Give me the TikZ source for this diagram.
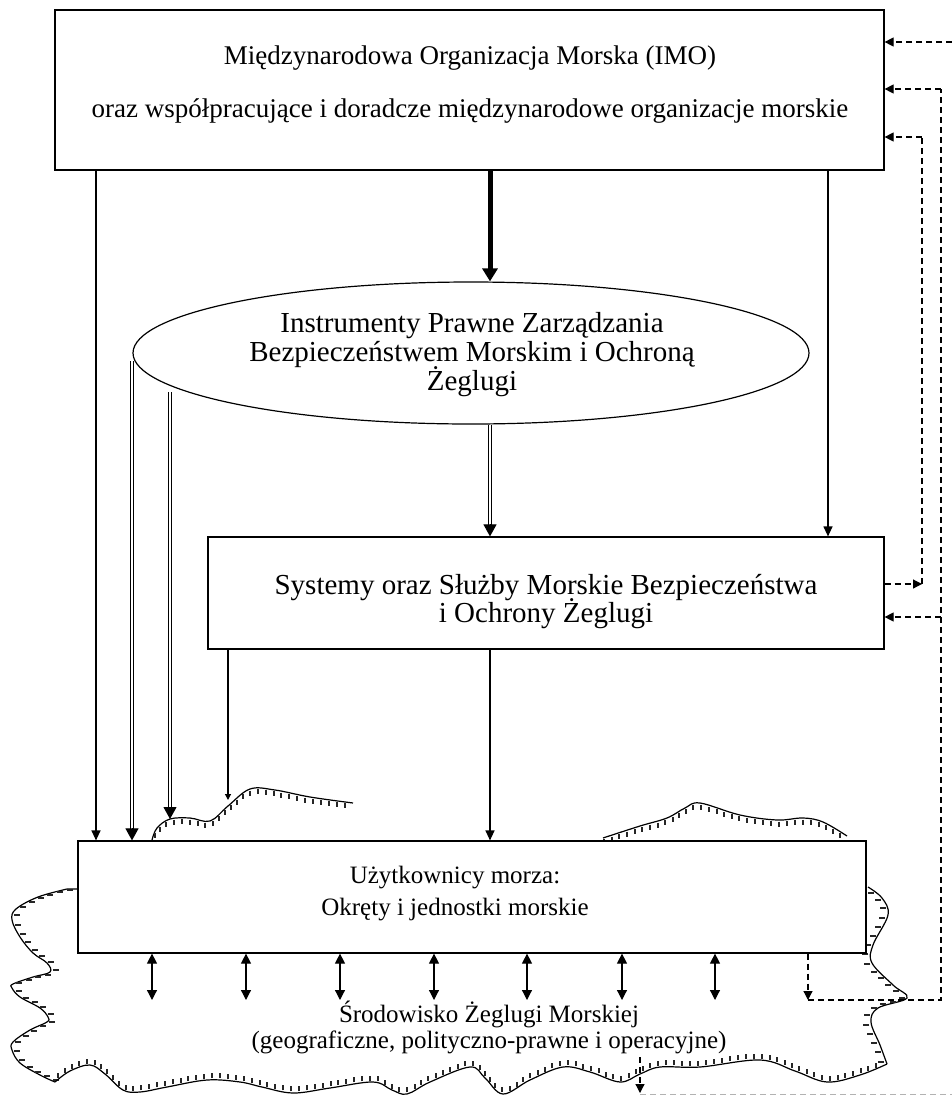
\documentclass[tikz,border=0pt]{standalone}
\usepackage{fontspec}
\setmainfont{Liberation Serif}
\usetikzlibrary{shapes.geometric,decorations.markings,arrows.meta}
\tikzset{
  box/.style={draw, line width=1.2pt, fill=white, inner sep=0pt},
  txt/.style={font=\fontsize{25}{27}\selectfont, anchor=base, inner sep=0pt},
  txtbig/.style={font=\fontsize{27}{29}\selectfont, anchor=base, inner sep=0pt},
  txthuge/.style={font=\fontsize{29}{31}\selectfont, anchor=base, inner sep=0pt},
  tip/.style={line width=1.2pt, -{Triangle[length=10pt,width=9pt]}},
  bitip/.style={line width=1.2pt, {Triangle[length=10pt,width=10pt]}-{Triangle[length=10pt,width=10pt]}},
  thicktip/.style={line width=5pt, -{Triangle[length=13pt,width=15pt]}},
  dbl/.style={line width=1.6pt, double, double distance=1.5pt},
  dbltip/.style={line width=1pt, -{Triangle[length=12pt,width=13pt]}},
  dashline/.style={line width=1.2pt, dash pattern=on 6pt off 4pt},
  dashtip/.style={dashline, -{Triangle[length=9pt,width=9pt]}},
  tickline/.style={line width=2pt, black!85, line cap=butt},
  hatchdown/.style={postaction={decorate, decoration={markings,
      mark=between positions 0.005 and 0.995 step 8pt with {\pgftransformresetnontranslations \draw[tickline] (0pt,-1.5pt) -- (0pt,-6.5pt);}}}},
  hatchup/.style={postaction={decorate, decoration={markings,
      mark=between positions 0.005 and 0.995 step 8pt with {\pgftransformresetnontranslations \draw[tickline] (0pt,1.5pt) -- (0pt,6.5pt);}}}},
  hatchright/.style={postaction={decorate, decoration={markings,
      mark=between positions 0.01 and 0.99 step 10pt with {\pgftransformresetnontranslations \draw[tickline] (2pt,0pt) -- (8pt,0pt);}}}},
  hatchleft/.style={postaction={decorate, decoration={markings,
      mark=between positions 0.01 and 0.99 step 10pt with {\pgftransformresetnontranslations \draw[tickline] (-2pt,0pt) -- (-8pt,0pt);}}}},
  wave/.style={line width=1.2pt}
}
\begin{document}
\begin{tikzpicture}[x=1pt,y=-1pt]
\useasboundingbox (0,0) rectangle (952,1096);

% ---- coastline outlines ----
\draw[wave, hatchdown] plot[smooth, tension=0.6] coordinates {(152,840) (157,828) (170,819) (190,818) (210,821) (228,806) (250,789) (275,790) (310,797) (353,803)};
\draw[wave, hatchdown] plot[smooth, tension=0.6] coordinates {(603,838) (640,826) (667,818) (685,808) (700,803) (740,815) (777,820) (803,818) (823,822) (847,836)};
\draw[wave, hatchright] (78,889) -- plot[smooth, tension=0.6] coordinates {(67,889) (38,897) (16,909) (12,920) (20,937) (33,953) (47,963) (50,972) (33,977) (13,984) (12,988) (20,997) (40,1008) (48,1017) (47,1022) (30,1030) (13,1042) (12,1050) (20,1063) (40,1075) (55,1082)};
\draw[wave, hatchup] plot[smooth, tension=0.6] coordinates {(55,1082) (70,1071) (90,1065) (105,1074) (123,1090) (140,1092) (167,1087) (207,1080) (240,1082) (262,1087) (293,1093) (330,1088) (373,1082) (392,1090) (407,1094) (430,1082) (470,1067) (485,1078) (503,1094) (530,1080) (563,1067) (590,1072) (620,1082) (640,1074) (660,1067) (700,1067) (760,1060) (795,1071) (827,1082) (860,1075) (887,1064)};
\draw[wave, hatchleft] plot[smooth, tension=0.6] coordinates {(887,1064) (880,1045) (871,1022) (878,1008) (907,998) (893,985) (872,963) (873,945) (888,915) (882,898) (868,887)};

% ---- main shapes ----
\node[box, minimum width=829pt, minimum height=160pt] (top) at (469.5,90) {};
\node[draw, line width=1.2pt, fill=white, ellipse, inner sep=0pt, minimum width=676pt, minimum height=142pt] (ell) at (471,353) {};
\node[box, minimum width=676pt, minimum height=112pt] (sbox) at (546,593) {};
\node[box, minimum width=788pt, minimum height=112pt] (ubox) at (472,897) {};

% ---- texts ----
\node[txtbig] (t1) at (470,64) {Międzynarodowa Organizacja Morska (IMO)};
\node[txtbig] (t2) at (470,117) {oraz współpracujące i doradcze międzynarodowe organizacje morskie};
\node[txthuge] (e1) at (472,332) {Instrumenty Prawne Zarządzania};
\node[txthuge] (e2) at (472,361) {Bezpieczeństwem Morskim i Ochroną};
\node[txthuge] (e3) at (472,390) {Żeglugi};
\node[txthuge] (s1) at (546,594) {Systemy oraz Służby Morskie Bezpieczeństwa};
\node[txthuge] (s2) at (546,622) {i Ochrony Żeglugi};
\node[txt] (u1) at (455,883) {Użytkownicy morza:};
\node[txt] (u2) at (455,915) {Okręty i jednostki morskie};
\node[txt] (w1) at (489,1022) {Środowisko Żeglugi Morskiej};
\node[txt] (w2) at (489,1048) {(geograficzne, polityczno-prawne i operacyjne)};

% ---- coordinates ----
\coordinate (xl) at (96,0);
\coordinate (xc) at (490,0);
\coordinate (xr) at (828,0);
\coordinate (d1s) at (132,361);
\coordinate (d2s) at (170,392);
\coordinate (d2e) at (170,819);
\coordinate (s228) at (228,0);
\coordinate (w228) at (228,800);

% ---- solid connectors ----
\draw[tip] (top.south -| xl) -- (ubox.north -| xl);
\draw[thicktip] (top.south -| xc) -- (xc |- ell.north);
\draw[tip] (top.south -| xr) -- (sbox.north -| xr);
% double arrows
\draw[dbl] (d1s) -- ([yshift=11pt]ubox.north -| d1s);
\draw[dbltip] ([yshift=12pt]ubox.north -| d1s) -- (ubox.north -| d1s);
\draw[dbl] (d2s) -- ([yshift=11pt]d2e);
\draw[dbltip] ([yshift=12pt]d2e) -- (d2e);
\draw[dbl] (xc |- ell.south) -- ([yshift=11pt]sbox.north -| xc);
\draw[dbltip] ([yshift=12pt]sbox.north -| xc) -- (sbox.north -| xc);
% from systems box
\draw[line width=1.2pt, -{Triangle[length=6pt,width=6pt]}] (sbox.south -| s228) -- (w228);
\draw[tip] (sbox.south -| xc) -- (ubox.north -| xc);

% bidirectional arrows
\foreach \i/\x in {1/152,2/246,3/340,4/434,5/527,6/622,7/715}{
  \coordinate (ba\i) at (\x,1000);
  \draw[bitip] (ubox.south -| ba\i) -- (ba\i);
}

% ---- dashed feedback ----
\coordinate (r1) at (952,42);
\coordinate (ra) at (941,89);
\coordinate (rb) at (941,1000);
\coordinate (rc) at (922,137);
\coordinate (rd) at (922,584);
\coordinate (re) at (941,617);
\coordinate (ub) at (808,1000);
\coordinate (bw) at (640,1057);
\coordinate (bt) at (640,1093);
\coordinate (bg) at (952,1094);

\draw[dashtip] (r1) -- (r1 -| top.east);
\draw[dashtip] (ubox.south -| ub) -- (ub);
\draw[dashline] (ub) -- (rb) -- (ra);
\draw[dashtip] (ra) -- (ra -| top.east);
\draw[dashtip] (re) -- (re -| sbox.east);
\draw[dashtip] (rd -| sbox.east) -- (rd);
\draw[dashline] (rd) -- (rc);
\draw[dashtip] (rc) -- (rc -| top.east);
\draw[dashtip] (bw) -- (bt);
\draw[dashline, gray!60, line width=1pt] (bt |- bg) -- (bg);
\end{tikzpicture}
\end{document}
